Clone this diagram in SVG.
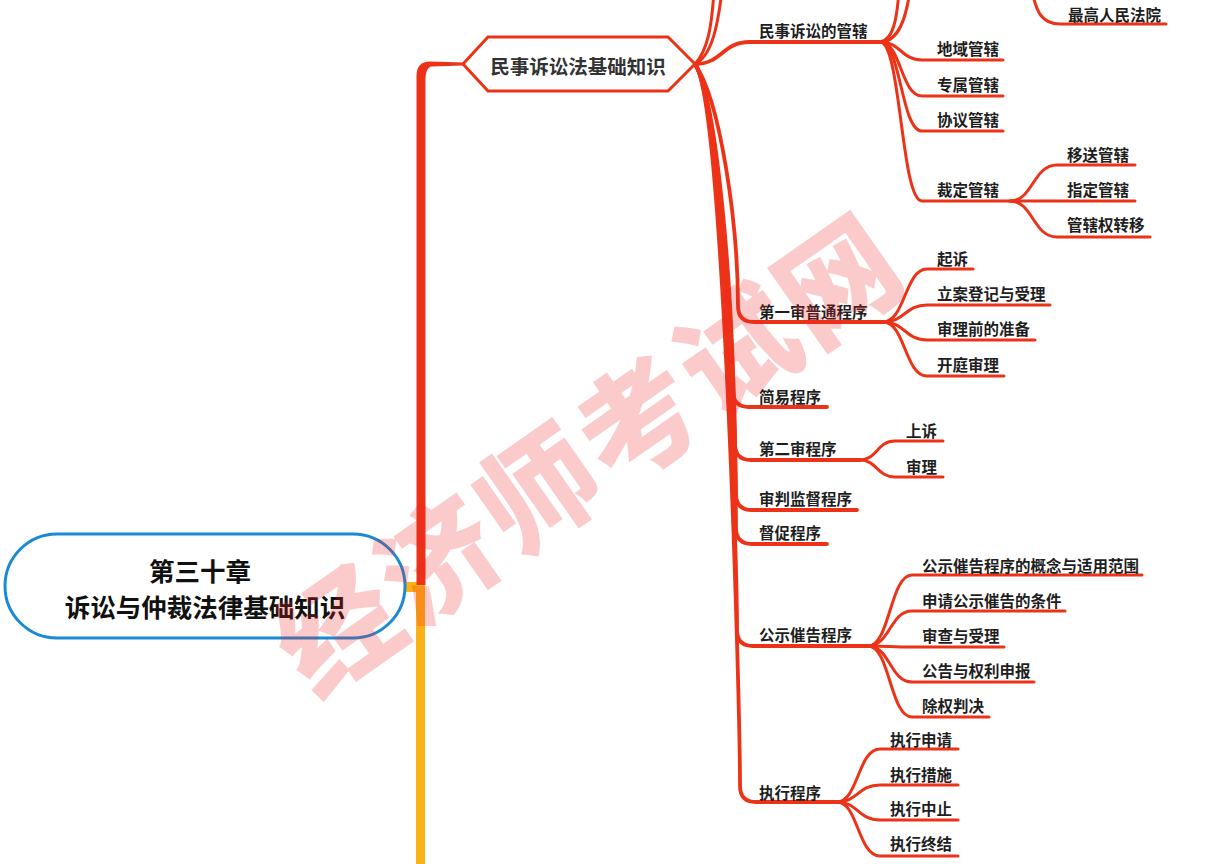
<svg xmlns="http://www.w3.org/2000/svg" width="1225" height="864" viewBox="0 0 1225 864">
<style>
.c{fill:none;stroke:#EC3318;stroke-width:3;stroke-linecap:round;stroke-linejoin:round}
.m{fill:none;stroke:#EC3318;stroke-width:3.8;stroke-linecap:round;stroke-linejoin:round}
.t{font-family:"Noto Sans CJK SC","Noto Sans",sans-serif;font-weight:bold;font-size:15.5px;fill:#1e1e1e;dominant-baseline:central}
.h{font-family:"Noto Sans CJK SC","Noto Sans",sans-serif;font-weight:bold;font-size:19.5px;fill:#333;dominant-baseline:central;text-anchor:middle}
.r{font-family:"Noto Sans CJK SC","Noto Sans",sans-serif;font-weight:bold;font-size:25.5px;fill:#111;dominant-baseline:central;text-anchor:middle}
.w{font-family:"Noto Sans CJK SC",sans-serif;font-weight:900;font-size:118px;letter-spacing:4px;fill:#EE2020;fill-opacity:0.24;text-anchor:middle;dominant-baseline:central}
</style>
<rect width="1225" height="864" fill="#fff"/>
<g id="connectors">
<rect x="416" y="582" width="9" height="282" fill="#FCB216"/>
<rect x="400" y="582" width="22" height="10" fill="#FCB216"/>
<path d="M416.5 585 L416.5 76 Q416.5 61.5 430 61.5 L463 62.5 L463 65.5 L432 66.5 Q425.5 67 425.5 80 L425.5 585 Z" fill="#EC3318"/>
<path class="c" d="M695 64 C708 50 712 25 714 -10"/>
<path class="c" d="M695 64 C712 56 718 25 722 -10"/>
<path class="m" d="M695 64 C722 64 722 42 750 42 L880 42"/>
<path class="m" d="M695 64 C720 100 738 222 738 306 Q738 322 754 322 L883 322"/>
<path class="m" d="M695 64 C718 100 733 307 733 391 Q733 407 749 407 L827 407"/>
<path class="m" d="M695 64 C719 100 735 360 735 444 Q735 460 751 460 L860 460"/>
<path class="m" d="M695 64 C720 100 736 410 736 494 Q736 510 752 510 L857 510"/>
<path class="m" d="M695 64 C721 100 736 444 736 528 Q736 544 752 544 L827 544"/>
<path class="m" d="M695 64 C722 100 737 546 737 630 Q737 646 753 646 L868 646"/>
<path class="m" d="M695 64 C724 100 740 702 740 786 Q740 802 756 802 L837 802"/>
<path class="c" d="M880 42 C893 40 897 20 899 -10"/>
<path class="c" d="M880 42 C898 42 906 20 910 -10"/>
<path class="c" d="M1032 -10 C1036 12 1042 24 1060 24 L1166 24"/>
<path class="c" d="M880 42 C901 42 901 60 922 60 L1003 60"/>
<path class="c" d="M880 42 C901 42 901 96 922 96 L1003 96"/>
<path class="c" d="M880 42 C901 42 901 131 922 131 L1003 131"/>
<path class="c" d="M880 42 C901 42 901 201 922 201 L1010 201"/>
<path class="c" d="M1010 201 C1033 201 1033 165 1057 165 L1135 165"/>
<path class="c" d="M1010 201 L1135 201"/>
<path class="c" d="M1010 201 C1033 201 1033 237 1057 237 L1150 237"/>
<path class="c" d="M883 322 C905 322 905 269 927 269 L973 269"/>
<path class="c" d="M883 322 C905 322 905 305 927 305 L1050 305"/>
<path class="c" d="M883 322 C905 322 905 340 927 340 L1035 340"/>
<path class="c" d="M883 322 C905 322 905 376 927 376 L1004 376"/>
<path class="c" d="M860 460 C877 460 877 441 895 441 L943 441"/>
<path class="c" d="M860 460 C877 460 877 477 895 477 L943 477"/>
<path class="c" d="M868 646 C890 646 890 575 912 575 L1142 575"/>
<path class="c" d="M868 646 C890 646 890 611 912 611 L1065 611"/>
<path class="c" d="M868 646 C890 646 890 647 912 647 L1004 647"/>
<path class="c" d="M868 646 C890 646 890 682 912 682 L1034 682"/>
<path class="c" d="M868 646 C890 646 890 717 912 717 L989 717"/>
<path class="c" d="M837 802 C858 802 858 749 880 749 L958 749"/>
<path class="c" d="M837 802 C858 802 858 785 880 785 L958 785"/>
<path class="c" d="M837 802 C858 802 858 820 880 820 L958 820"/>
<path class="c" d="M837 802 C858 802 858 856 880 856 L958 856"/>
</g>
<g id="root">
<rect x="5" y="534" width="400" height="104" rx="52" fill="#fff" stroke="#1A8AD4" stroke-width="3"/>
<text class="r" x="200" y="569">第三十章</text>
<text class="r" x="205" y="605">诉讼与仲裁法律基础知识</text>
</g>
<g id="main-civil">
<polygon points="463,64 488,37 668,37 695,64 668,91 488,91" fill="#fff" stroke="#EC3318" stroke-width="3"/>
<text class="h" x="578" y="65">民事诉讼法基础知识</text>
</g>
<g id="n-jurisdiction"><text class="t" x="759" y="30">民事诉讼的管辖</text></g>
<g id="n-supreme"><text class="t" x="1068" y="14">最高人民法院</text></g>
<g id="n-territorial"><text class="t" x="937" y="48">地域管辖</text></g>
<g id="n-exclusive"><text class="t" x="937" y="84">专属管辖</text></g>
<g id="n-agreed"><text class="t" x="937" y="119">协议管辖</text></g>
<g id="n-ruled"><text class="t" x="937" y="189">裁定管辖</text></g>
<g id="n-transfer"><text class="t" x="1067" y="154">移送管辖</text></g>
<g id="n-designated"><text class="t" x="1067" y="189">指定管辖</text></g>
<g id="n-shift"><text class="t" x="1067" y="224">管辖权转移</text></g>
<g id="n-first"><text class="t" x="759" y="311">第一审普通程序</text></g>
<g id="n-sue"><text class="t" x="937" y="258">起诉</text></g>
<g id="n-register"><text class="t" x="937" y="293">立案登记与受理</text></g>
<g id="n-prep"><text class="t" x="937" y="328">审理前的准备</text></g>
<g id="n-trial"><text class="t" x="937" y="364">开庭审理</text></g>
<g id="n-simple"><text class="t" x="759" y="396">简易程序</text></g>
<g id="n-second"><text class="t" x="759" y="448">第二审程序</text></g>
<g id="n-appeal"><text class="t" x="906" y="430">上诉</text></g>
<g id="n-hear"><text class="t" x="906" y="466">审理</text></g>
<g id="n-supervise"><text class="t" x="759" y="498">审判监督程序</text></g>
<g id="n-urge"><text class="t" x="759" y="532">督促程序</text></g>
<g id="n-public"><text class="t" x="759" y="634">公示催告程序</text></g>
<g id="n-concept"><text class="t" x="922" y="565">公示催告程序的概念与适用范围</text></g>
<g id="n-cond"><text class="t" x="922" y="600">申请公示催告的条件</text></g>
<g id="n-review"><text class="t" x="922" y="635">审查与受理</text></g>
<g id="n-announce"><text class="t" x="922" y="670">公告与权利申报</text></g>
<g id="n-exclude"><text class="t" x="922" y="705">除权判决</text></g>
<g id="n-exec"><text class="t" x="759" y="792">执行程序</text></g>
<g id="n-exec-apply"><text class="t" x="890" y="739">执行申请</text></g>
<g id="n-exec-measure"><text class="t" x="890" y="774">执行措施</text></g>
<g id="n-exec-suspend"><text class="t" x="890" y="808">执行中止</text></g>
<g id="n-exec-end"><text class="t" x="890" y="843">执行终结</text></g>
<g id="watermark">
<text class="w" transform="translate(585 448) rotate(-35)">经济师考试网</text>
</g>
</svg>
